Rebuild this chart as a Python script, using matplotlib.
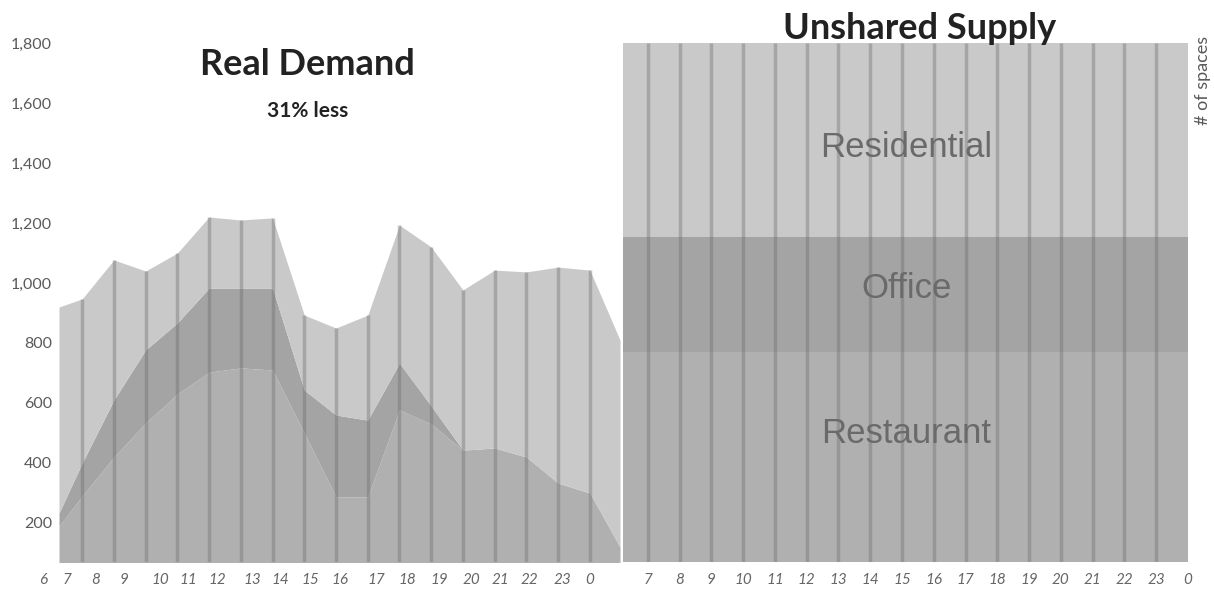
import numpy as np
import matplotlib.pyplot as plt
from matplotlib.transforms import blended_transform_factory

plt.rcParams['font.family'] = ['Lato', 'DejaVu Sans']

# ---- data ----
# x positions in hours: left edge, hour lines 7..23, right edge
demand_hours = [6.27, 7, 8, 9, 10, 11, 12, 13, 14, 15, 16, 17, 18, 19, 20, 21, 22, 23, 23.95]
restaurant_top = [190, 290, 420, 533, 630, 703, 717, 710, 500, 287, 287, 577, 530, 443, 450, 420, 333, 300, 120]
office_top = [233, 400, 610, 777, 867, 983, 983, 983, 643, 560, 543, 733, 590, 443, 450, 420, 333, 300, 120]
residential_top = [920, 947, 1077, 1040, 1100, 1220, 1210, 1217, 893, 850, 893, 1193, 1120, 977, 1043, 1037, 1053, 1043, 810]

line_hours = list(range(7, 24))

# left chart tick labels sit a bit off the hour lines
left_labels = ["6", "7", "8", "9", "10", "11", "12", "13", "14", "15", "16", "17", "18", "19", "20", "21", "22", "23", "0"]
left_label_pos = [5.77, 6.53, 7.41, 8.32, 9.46, 10.34, 11.25, 12.35, 13.24, 14.18, 15.13, 16.26, 17.24, 18.24, 19.28, 20.17, 21.11, 22.12, 23.0]

right_labels = ["7", "8", "9", "10", "11", "12", "13", "14", "15", "16", "17", "18", "19", "20", "21", "22", "23", "0"]
right_label_pos = list(range(7, 25))

supply_names = ["Restaurant", "Office", "Residential"]
supply_values = [770, 383, 647]

y_ticks = [200, 400, 600, 800, 1000, 1200, 1400, 1600, 1800]

# ---- style ----
c_light = "#c9c9c9"
c_dark = "#a4a4a4"
c_mid = "#b0b0b0"
c_line = "#6f6f6f"
c_text = "#5a5a5a"

W, H = 1214, 589
fig = plt.figure(figsize=(W / 100, H / 100), dpi=100)
bottom = 1 - 562 / H
height = 519 / H
ax1 = fig.add_axes([59 / W, bottom, (620 - 59) / W, height])
ax2 = fig.add_axes([623 / W, bottom, (1188 - 623) / W, height])

ymin, ymax = 70, 1800

# left : real demand
ax1.fill_between(demand_hours, 0, restaurant_top, color=c_mid, lw=0)
ax1.fill_between(demand_hours, restaurant_top, office_top, color=c_dark, lw=0)
ax1.fill_between(demand_hours, office_top, residential_top, color=c_light, lw=0)
tops = np.interp(line_hours, demand_hours, residential_top)
ax1.vlines(line_hours, ymin, tops, color=c_line, lw=2.5, alpha=0.4)
ax1.set_xlim(demand_hours[0], demand_hours[-1])
ax1.set_ylim(ymin, ymax)

# right : unshared supply
base = 0
for name, val in zip(supply_names, supply_values):
    col = {"Restaurant": c_mid, "Office": c_dark, "Residential": c_light}[name]
    ax2.axhspan(base, base + val, color=col, lw=0)
    base += val
ax2.vlines(line_hours, ymin, sum(supply_values), color=c_line, lw=2.5, alpha=0.4)
ax2.set_xlim(6.22, 24)
ax2.set_ylim(ymin, ymax)

label_y = {"Residential": 1420, "Office": 950, "Restaurant": 467}
for name in supply_names:
    ax2.text(0.501, label_y[name], name, transform=blended_transform_factory(ax2.transAxes, ax2.transData),
             ha="center", va="baseline", fontsize=25, color="#6a6a6a", family="Liberation Sans")

for ax in (ax1, ax2):
    for s in ax.spines.values():
        s.set_visible(False)
    ax.set_xticks([])
    ax.tick_params(length=0)

ax1.set_yticks(y_ticks)
ax1.set_yticklabels([f"{v:,}" for v in y_ticks], fontsize=11.5, color=c_text)
ax1.tick_params(axis="y", pad=5)
ax2.set_yticks([])

# x labels as text, the first one sits left of the plot
tr1 = blended_transform_factory(ax1.transData, ax1.transAxes)
for lab, pos in zip(left_labels, left_label_pos):
    ax1.text(pos, -0.035, lab, transform=tr1, ha="center", va="center", fontsize=11,
             style="italic", color="#666666", clip_on=False)
tr2 = blended_transform_factory(ax2.transData, ax2.transAxes)
for lab, pos in zip(right_labels, right_label_pos):
    ax2.text(pos, -0.035, lab, transform=tr2, ha="center", va="center", fontsize=11,
             style="italic", color="#666666", clip_on=False)

# titles
fig.text(307 / W, 1 - 75 / H, "Real Demand", ha="center", va="baseline", fontsize=26,
         weight="bold", color="#222222")
fig.text(308 / W, 1 - 117 / H, "31% less", ha="center", va="baseline", fontsize=15,
         weight="bold", color="#222222")
fig.text(920 / W, 1 - 39 / H, "Unshared Supply", ha="center", va="baseline", fontsize=26,
         weight="bold", color="#222222")
fig.text(1203 / W, 1 - 80 / H, "# of spaces", ha="center", va="center", rotation=90,
         fontsize=13, color=c_text)

fig.savefig("out.png", dpi=100)
